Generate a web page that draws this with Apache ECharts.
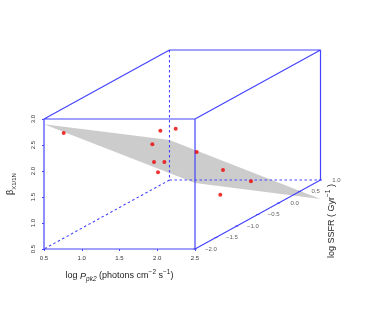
<!DOCTYPE html>
<html><head><meta charset="utf-8">
<style>html,body{margin:0;padding:0;background:#fff}#c{width:374px;height:311px}</style>
<script src="https://cdn.jsdelivr.net/npm/echarts@6/dist/echarts.min.js"></script>
</head><body><div id="c"></div>
<script>
const pointX = [0.65, 1.487, 1.413, 1.381, 1.403, 1.54, 1.456, 1.691, 1.763, 2.133, 1.727];
const pointZ = [-1.8, -1, -0.5, -1, -1, -1, -1, -0.5, 0, 0, 0];
const pointY = [2.64, 2.333, 2.15, 2.071, 1.731, 1.731, 1.533, 1.702, 1.135, 0.917, 0.66];
// Fitted plane corners
const planeX = [0.5, 0.5, 2.5, 2.5];
const planeZ = [-2, 1, 1, -2];
const planeY = [2.90, 1.27, 0.135, 1.77];
// Tick labels
const xTicks = [0.5, 1.0, 1.5, 2.0, 2.5];
const yTicks = [0.5, 1.0, 1.5, 2.0, 2.5, 3.0];
const zTicks = [-2.0, -1.5, -1.0, -0.5, 0.0, 0.5, 1.0];
// Box limits
const xLim = [0.5, 2.5], yLim = [0.5, 3.0], zLim = [-2, 1];
// Oblique projection: shift in axis units from front (z min) to back (z max)
const shiftX = 1.662, shiftY = 1.327;
const proj = (x, z, y) => {
  const d = (z - zLim[0]) / (zLim[1] - zLim[0]);
  return [x + d * shiftX, y + d * shiftY];
};
const [x0, x1] = xLim, [y0, y1] = yLim, [z0, z1] = zLim;
const BLUE = '#4444ff';
const solid = [
  [x0,z0,y0],[x1,z0,y0],[x1,z0,y1],[x0,z0,y1],[x0,z0,y0], null,
  [x0,z0,y1],[x0,z1,y1],[x1,z1,y1],[x1,z1,y0],[x1,z0,y0], null,
  [x1,z0,y1],[x1,z1,y1]
].map(p => p ? proj(...p) : [null, null]);
const dashed = [
  [x0,z1,y1],[x0,z1,y0],[x1,z1,y0], null,
  [x0,z1,y0],[x0,z0,y0]
].map(p => p ? proj(...p) : [null, null]);
const zTickMarks = [];
zTicks.forEach(z => {
  zTickMarks.push(proj(x1 - 0.02, z, y0), proj(x1 + 0.02, z, y0), [null, null]);
});
const fmt = v => v.toFixed(1).replace('-', '\u2212');
const font = '"Liberation Sans", Arial, sans-serif';
const INK = '#222';

const chart = echarts.init(document.getElementById('c'), null, {renderer: 'canvas'});
chart.setOption({
  animation: false,
  backgroundColor: '#fff',
  grid: {left: 44, right: 53.5, top: 50, bottom: 62, containLabel: false},
  xAxis: {
    type: 'value', min: x0, max: x1 + shiftX, splitLine: {show: false},
    axisLine: {show: false},
    axisTick: {show: true, length: 2, lineStyle: {color: BLUE, width: 1}, customValues: xTicks},
    axisLabel: {show: true, customValues: xTicks, formatter: v => v.toFixed(1), fontSize: 6, color: '#333', margin: 6, fontFamily: font, hideOverlap: false}
  },
  yAxis: {
    type: 'value', min: y0, max: y1 + shiftY, splitLine: {show: false},
    axisLine: {show: false},
    axisTick: {show: true, length: 2, lineStyle: {color: BLUE, width: 1}, customValues: yTicks},
    axisLabel: {show: true, customValues: yTicks, formatter: v => v.toFixed(1), rotate: 90, fontSize: 6, color: '#333', margin: 8, fontFamily: font, hideOverlap: false}
  },
  series: [
    {
      type: 'custom', coordinateSystem: 'cartesian2d', clip: false, silent: true, z: 1,
      data: [[0]],
      renderItem: (params, api) => ({
        type: 'polygon',
        shape: {points: planeX.map((x, i) => api.coord(proj(x, planeZ[i], planeY[i])))},
        style: {fill: '#cccccc'}
      })
    },
    {type: 'line', data: solid, showSymbol: false, connectNulls: false, clip: false, z: 3,
      lineStyle: {color: BLUE, width: 1.2}},
    {type: 'line', data: dashed, showSymbol: false, connectNulls: false, clip: false, z: 3,
      lineStyle: {color: BLUE, width: 1.1, type: [2.5, 2.5]}},
    {type: 'line', data: zTickMarks, showSymbol: false, connectNulls: false, clip: false, z: 3,
      lineStyle: {color: BLUE, width: 1}},
    {type: 'scatter', clip: false, z: 4, symbolSize: 1, itemStyle: {color: 'transparent'},
      data: zTicks.map(z => proj(x1, z, y0).concat(z)),
      label: {show: true, position: 'inside', offset: [16, 0], fontSize: 6, color: '#333', fontFamily: font,
        formatter: p => fmt(p.value[2])}},
    {type: 'scatter', clip: false, z: 5, symbol: 'circle', symbolSize: 4, itemStyle: {color: '#ee0000'},
      data: pointX.map((x, i) => proj(x, pointZ[i], pointY[i]))}
  ],
  graphic: [
    {type: 'text', x: 119.5, y: 276, style: {
      text: 'log {i|P}{s|pk2} (photons cm{u|\u22122} s{u|\u22121})',
      align: 'center', verticalAlign: 'middle', fontSize: 9, lineHeight: 14, fill: INK, fontFamily: font,
      rich: {
        i: {fontStyle: 'italic', fontSize: 9, fontFamily: font, fill: INK},
        s: {fontStyle: 'italic', fontSize: 6.5, lineHeight: 7, verticalAlign: 'bottom', fontFamily: font, fill: INK},
        u: {fontSize: 6.5, lineHeight: 7, verticalAlign: 'top', fontFamily: font, fill: INK}
      }}},
    {type: 'text', x: 10.5, y: 184, rotation: Math.PI / 2, style: {
      text: '\u03b2{s|X1/1N}',
      align: 'center', verticalAlign: 'middle', fontSize: 9, lineHeight: 14, fill: INK, fontFamily: font,
      rich: {s: {fontSize: 6, lineHeight: 7, verticalAlign: 'bottom', fontFamily: font, fill: INK}}}},
    {type: 'text', x: 332, y: 221, rotation: Math.PI / 2, style: {
      text: 'log SSFR ( Gyr{u|\u22121} )',
      align: 'center', verticalAlign: 'middle', fontSize: 9, lineHeight: 14, fill: INK, fontFamily: font,
      rich: {u: {fontSize: 6.5, lineHeight: 7, verticalAlign: 'top', fontFamily: font, fill: INK}}}}
  ]
});
</script></body></html>
